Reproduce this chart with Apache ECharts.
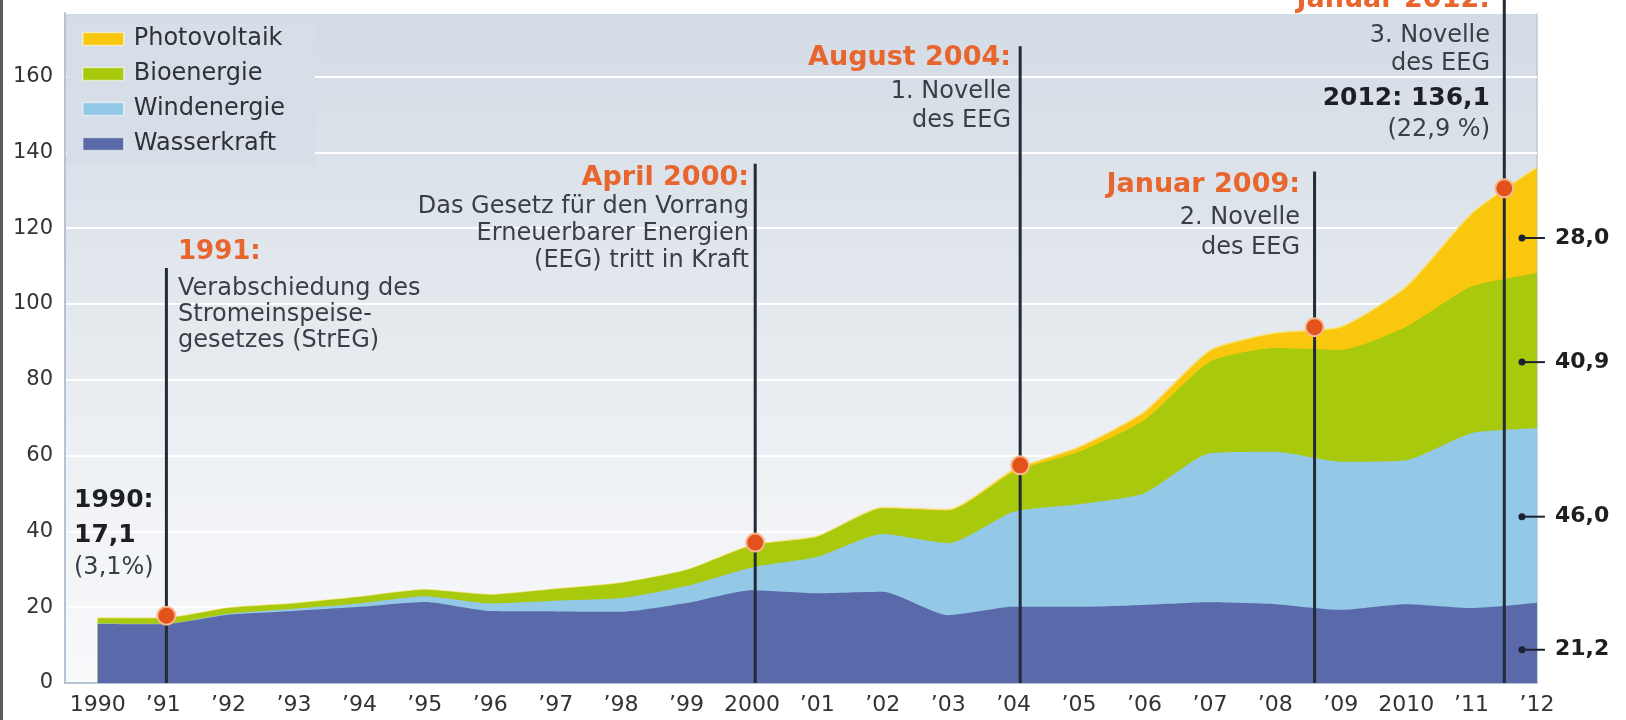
<!DOCTYPE html>
<html><head><meta charset="utf-8">
<script src="https://cdn.jsdelivr.net/npm/echarts@6/dist/echarts.min.js"></script>
<style>html,body{margin:0;padding:0;background:#fff}#c{width:1626px;height:720px}</style>
</head><body><div id="c"></div>
<script>
// ---------- data ----------
const years = [1990,1991,1992,1993,1994,1995,1996,1997,1998,1999,2000,2001,2002,2003,2004,2005,2006,2007,2008,2009,2010,2011,2012];
const yearLabels = ['1990','’91','’92','’93','’94','’95','’96','’97','’98','’99','2000','’01','’02','’03','’04','’05','’06','’07','’08','’09','2010','’11','’12'];
const wasserkraft  = [15.6,15.5,18.0,19.0,20.1,21.4,19.0,18.9,18.8,21.1,24.5,23.7,24.1,17.9,20.1,20.1,20.6,21.3,20.8,19.3,20.8,19.8,21.2];
const windenergie  = [0.1,0.1,0.3,0.6,0.9,1.5,2.0,2.8,3.6,4.5,6.0,9.6,15.2,19.0,25.1,27.1,29.5,39.3,40.2,39.1,38.0,46.1,46.0];
const bioenergie   = [1.4,1.5,1.5,1.4,1.7,1.7,2.3,3.1,4.0,4.2,5.8,5.3,6.8,8.6,10.5,13.8,19.3,24.2,27.4,29.5,35.2,38.7,40.9];
const photovoltaik = [0,0,0,0,0,0,0,0,0,0,0.1,0.1,0.2,0.3,0.6,1.3,2.2,3.0,4.0,6.1,10.6,19.3,28.0];
const seriesNames = ['Wasserkraft','Windenergie','Bioenergie','Photovoltaik'];
const legendOrder = ['Photovoltaik','Bioenergie','Windenergie','Wasserkraft'];
const yTicks = [0,20,40,60,80,100,120,140,160];

// events (year position of the marker line, top of the line in axis units)
const eventX   = [1991.05, 2000.05, 2004.1, 2008.6, 2011.5];
const eventTop = [109.5, 137, 168, 135, 181];
const eventTitles = ['1991:','April 2000:','August 2004:','Januar 2009:','Januar 2012:'];
const eventNotes = [
  ['Verabschiedung des','Stromeinspeise-','gesetzes (StrEG)'],
  ['Das Gesetz für den Vorrang','Erneuerbarer Energien','(EEG) tritt in Kraft'],
  ['1. Novelle','des EEG'],
  ['2. Novelle','des EEG'],
  ['3. Novelle','des EEG']
];
const startInfo = ['1990:','17,1','(3,1%)'];
const endInfo = ['2012: 136,1','(22,9 %)'];
const endLabelX = 2011.77;

// ---------- helpers ----------
const FONT = "'DejaVu Sans', sans-serif";
const seriesData = [wasserkraft, windenergie, bioenergie, photovoltaik];
const colors = ['#5a69a9','#93c8e6','#a9c90c','#f9c80e'];
const labelFrac = [0.42, 0.5, 0.44, 0.39];   // where inside each band the end label sits
const cumulative = [];
seriesData.forEach((arr,k)=>{
  cumulative.push(arr.map((v,i)=> v + (k>0 ? cumulative[k-1][i] : 0)));
});
const totals = cumulative[cumulative.length-1];
function interp(arr, x){
  let i = Math.floor(x - years[0]);
  i = Math.min(Math.max(i,0), years.length-2);
  const t = x - years[i];
  return arr[i] + (arr[i+1]-arr[i])*t;
}
const fmt = v => v.toFixed(1).replace('.', ',');

const bandLabels = seriesData.map((arr,k)=>{
  const hi = interp(cumulative[k], endLabelX);
  const lo = k>0 ? interp(cumulative[k-1], endLabelX) : 0;
  return [endLabelX, lo + (hi-lo)*labelFrac[k], arr[arr.length-1]];
});

// ---------- text layout ----------
function T(x, y, text, size, weight, color, align){
  return {type:'text', x:x, y:y, z:100, silent:true,
    style:{text:text, font: weight+' '+size+'px '+FONT, fill:color,
      align:align, verticalAlign:'middle', textAlign:align, textVerticalAlign:'middle'}};
}
const ORANGE = '#e8652e', BODY = '#3a3e46', DARK = '#1e1f22';
const noteLayout = [
  {x:178, align:'left',  ys:[252,289,315,341], size:26},
  {x:749, align:'right', ys:[178,207,234,261], size:27},
  {x:1011,align:'right', ys:[58,92,121], size:27},
  {x:1300,align:'right', ys:[185,218,248], size:27},
  {x:1490,align:'right', ys:[0,36,64], size:27}
];
const graphics = [{type:'rect', shape:{x:0,y:0,width:3,height:720}, style:{fill:'#5b5b5b'}, z:100}];
noteLayout.forEach((L,i)=>{
  graphics.push(T(L.x, L.ys[0], eventTitles[i], L.size, 'bold', ORANGE, L.align));
  eventNotes[i].forEach((t,j)=>graphics.push(T(L.x, L.ys[j+1], t, 24, 'normal', BODY, L.align)));
});
graphics.push(T(74, 500, startInfo[0], 25, 'bold', DARK, 'left'));
graphics.push(T(74, 535, startInfo[1], 25, 'bold', DARK, 'left'));
graphics.push(T(74, 568, startInfo[2], 24, 'normal', BODY, 'left'));
graphics.push(T(1490, 98, endInfo[0], 25, 'bold', DARK, 'right'));
graphics.push(T(1490, 130, endInfo[1], 24, 'normal', BODY, 'right'));

// ---------- chart ----------
const chart = echarts.init(document.getElementById('c'));
// bands drawn as cumulative areas, top band first so lower bands cover it
const areaSeries = [3,2,1,0].map((k,order)=>({
  type:'line', name:seriesNames[k],
  data: years.map((y,i)=>[y, cumulative[k][i]]),
  symbol:'none', smooth:0.2,
  lineStyle: k===3 ? {width:1.5, color:'#f6e27e'} : {width:0},
  areaStyle:{color:colors[k], opacity:1, origin:'start'},
  itemStyle:{color:colors[k]},
  z:2 + order*0.01
}));
const option = {
  animation:false,
  backgroundColor:'#ffffff',
  textStyle:{fontFamily:FONT},
  grid:{left:65, right:89, top:13, bottom:37, show:true,
    borderColor:'#bccad8', borderWidth:1.5,
    backgroundColor:{type:'linear', x:0,y:0,x2:0,y2:1, colorStops:[
      {offset:0, color:'#d3dbe5'},{offset:0.45, color:'#e4e9ee'},{offset:0.75, color:'#f1f3f6'},{offset:1, color:'#f8f9fb'}]}},
  legend:{data:legendOrder, orient:'vertical', left:67, top:23, icon:'rect',
    itemWidth:41, itemHeight:13, itemGap:11,
    padding:[4,30,8,15], backgroundColor:'#d7dee7',
    textStyle:{fontFamily:FONT, fontSize:24, color:'#2e3138', lineHeight:24, padding:[0,0,0,5]},
    itemStyle:{borderColor:'rgba(255,255,255,0.55)', borderWidth:1.5}},
  xAxis:{type:'value', min:1989.5, max:2012,
    axisLine:{show:true, lineStyle:{color:'#b4c4d4', width:2}},
    axisTick:{show:false},
    splitLine:{show:false},
    axisLabel:{customValues:years, margin:11, fontFamily:FONT, fontSize:22, color:'#333',
      formatter:(v)=>{const k=years.indexOf(Math.round(v)); return k>=0?yearLabels[k]:'';}}},
  yAxis:{type:'value', min:0, max:176.8, interval:20,
    axisLine:{show:true, lineStyle:{color:'#b4c4d4', width:2}},
    axisTick:{show:false},
    splitLine:{show:true, lineStyle:{color:'#ffffff', width:2}},
    axisLabel:{margin:12, fontFamily:FONT, fontSize:21, color:'#333',
      formatter:(v)=> yTicks.indexOf(v)>=0 ? String(v) : ''}},
  series: areaSeries.concat([
    {type:'custom', name:'events', silent:true, clip:false, z:5,
     data: eventX.map((x,i)=>[x, eventTop[i], interp(totals, x)]),
     renderItem:(params, api)=>{
       const x = api.value(0), top = api.value(1), dot = api.value(2);
       const p0 = api.coord([x,0]), p1 = api.coord([x,top]), pd = api.coord([x,dot]);
       return {type:'group', children:[
         {type:'line', shape:{x1:p0[0], y1:p0[1], x2:p1[0], y2:p1[1]}, style:{stroke:'#232a38', lineWidth:3}},
         {type:'circle', shape:{cx:pd[0], cy:pd[1]-2, r:9}, style:{fill:'#e4521b', stroke:'#f6b98c', lineWidth:2}}
       ]};
     }},
    {type:'custom', name:'endLabels', silent:true, clip:false, z:6,
     data: bandLabels,
     renderItem:(params, api)=>{
       const p = api.coord([api.value(0), api.value(1)]);
       const v = api.value(2);
       return {type:'group', children:[
         {type:'circle', shape:{cx:p[0], cy:p[1], r:3.5}, style:{fill:'#1b2233'}},
         {type:'line', shape:{x1:p[0], y1:p[1], x2:p[0]+23, y2:p[1]}, style:{stroke:'#1b2233', lineWidth:2}},
         {type:'text', x:p[0]+33, y:p[1], style:{text:fmt(v), font:'bold 22px '+FONT, fill:DARK,
            align:'left', verticalAlign:'middle', textAlign:'left', textVerticalAlign:'middle'}}
       ]};
     }}
  ]),
  graphic: graphics
};
chart.setOption(option);
</script>
</body></html>
